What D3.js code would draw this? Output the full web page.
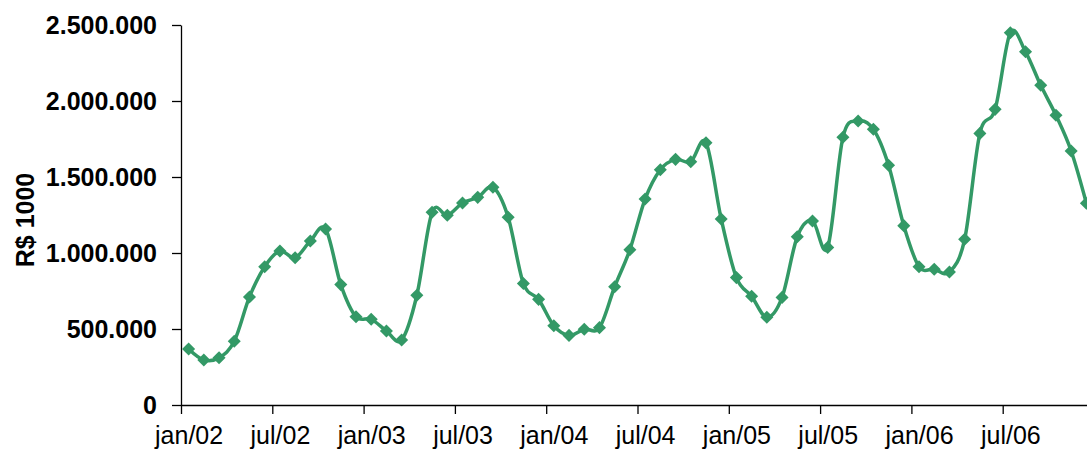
<!DOCTYPE html>
<html>
<head>
<meta charset="utf-8">
<script src="https://cdn.jsdelivr.net/npm/d3@7"></script>
<style>
  body { margin: 0; background: #fff; }
  text { font-family: "Liberation Sans", Arial, sans-serif; }
</style>
</head>
<body>
<div id="chart"></div>
<script>
// month labels (jan/02 .. dez/06)
var monthNames = ["jan", "fev", "mar", "abr", "mai", "jun", "jul", "ago", "set", "out", "nov", "dez"];
var years = ["02", "03", "04", "05", "06"];

// values in R$ 1000
var values = [
    368000, 296000, 311000, 419000, 711000, 910000, 1013000, 969000, 1079000, 1158000, 792000, 581000,
    564000, 487000, 428000, 722000, 1268000, 1248000, 1329000, 1366000, 1432000, 1235000, 800000, 695000,
    522000, 458000, 498000, 509000, 778000, 1022000, 1355000, 1548000, 1616000, 1601000, 1726000, 1224000,
    838000, 715000, 577000, 708000, 1107000, 1211000, 1037000, 1761000, 1868000, 1814000, 1577000, 1180000,
    910000, 893000, 875000, 1090000, 1787000, 1945000, 2449000, 2324000, 2103000, 1906000, 1671000, 1327000
];

var yTicks = [0, 500000, 1000000, 1500000, 2000000, 2500000];

var categories = [];
years.forEach(y => monthNames.forEach(m => categories.push(m + "/" + y)));

var margin = { left: 181, right: 1094, top: 25, bottom: 405 };
var width = 1087, height = 450;

var svg = d3.select("#chart").append("svg")
    .attr("width", width)
    .attr("height", height);

var x = d3.scaleLinear().domain([0, categories.length]).range([margin.left, margin.right]);
var y = d3.scaleLinear().domain([0, 2500000]).range([margin.bottom, margin.top]);
var band = x(1) - x(0);

var locale = d3.formatLocale({ decimal: ",", thousands: ".", grouping: [3], currency: ["R$", ""] });
var fmt = locale.format(",d");

// y axis
var yAxis = svg.append("g")
    .attr("transform", `translate(${margin.left},0)`)
    .call(d3.axisLeft(y).tickValues(yTicks).tickFormat(fmt).tickSize(9).tickSizeOuter(0).tickPadding(15));
yAxis.selectAll("text")
    .style("font-size", "25px")
    .style("font-weight", "bold")
    .attr("fill", "#000");

// x axis: ticks between categories, labels centered on category
var xAxis = svg.append("g")
    .attr("transform", `translate(0,${margin.bottom})`)
    .call(d3.axisBottom(x)
        .tickValues(d3.range(0, categories.length, 6))
        .tickFormat(i => categories[i])
        .tickSize(9).tickSizeOuter(0));
xAxis.selectAll("text")
    .attr("x", band / 2)
    .attr("y", 39)
    .attr("dy", 0)
    .style("font-size", "25px")
    .attr("fill", "#000");

svg.selectAll(".domain, .tick line").attr("stroke", "#000").attr("stroke-width", 1.3);

// axis title
svg.append("text")
    .attr("transform", "translate(34,220) rotate(-90)")
    .attr("text-anchor", "middle")
    .style("font-size", "25px")
    .style("font-weight", "bold")
    .text("R$ 1000");

// smoothed line
var line = d3.line()
    .x((d, i) => x(i + 0.5))
    .y(d => y(d))
    .curve(d3.curveCardinal.tension(0));

svg.append("path")
    .datum(values)
    .attr("d", line)
    .attr("fill", "none")
    .attr("stroke", "#339966")
    .attr("stroke-width", 3.5);

// diamond markers
var diamond = d3.symbol().type(d3.symbolSquare).size(85);
svg.append("g")
    .selectAll("path")
    .data(values)
    .enter()
    .append("path")
    .attr("d", diamond)
    .attr("transform", (d, i) => `translate(${x(i + 0.5)},${y(d)}) rotate(45)`)
    .attr("fill", "#339966");
</script>
</body>
</html>
